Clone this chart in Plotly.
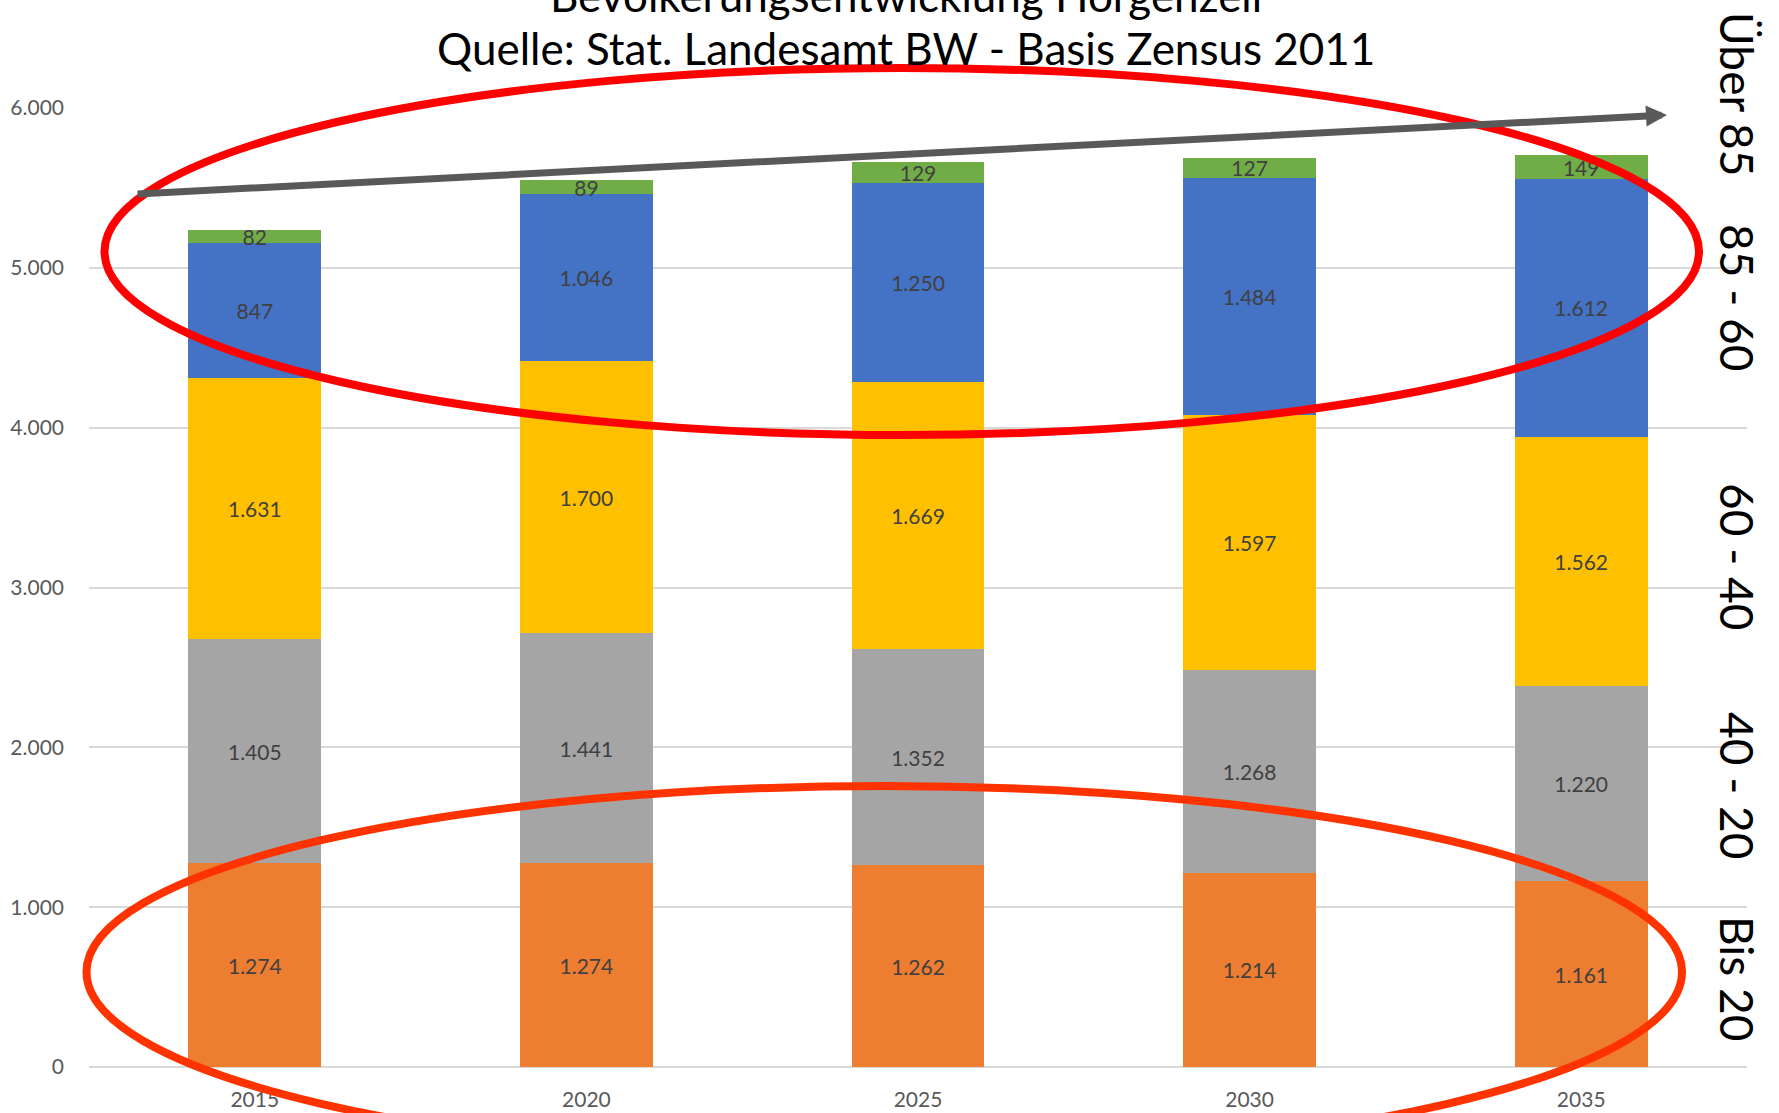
import plotly.graph_objects as go

years = ["2015", "2020", "2025", "2030", "2035"]
bis20 = [1274, 1274, 1262, 1214, 1161]
a20_40 = [1405, 1441, 1352, 1268, 1220]
a40_60 = [1631, 1700, 1669, 1597, 1562]
a60_85 = [847, 1046, 1250, 1484, 1612]
ueber85 = [82, 89, 129, 127, 149]

series = [
    ("Bis 20", bis20, "#ED7D31"),
    ("40 - 20", a20_40, "#A5A5A5"),
    ("60 - 40", a40_60, "#FFC000"),
    ("85 - 60", a60_85, "#4472C4"),
    ("Über 85", ueber85, "#70AD47"),
]

W, H = 1779, 1113
L, R, T, B = 88.5, 1747, 108, 1067


def px(x):
    return (x - L) / (R - L)


def py(y):
    return (B - y) / (B - T)


fig = go.Figure()
for name, vals, col in series:
    fig.add_trace(go.Bar(
        x=years, y=vals, name=name,
        marker=dict(color=col, line=dict(width=0)),
        texttemplate="%{y:,}", textposition="inside", textangle=0,
        insidetextanchor="middle",
        textfont=dict(family="Lato", size=21, color="#404040"),
        constraintext="none",
    ))

annotations = [
    dict(text="Bevölkerungsentwicklung Horgenzell", x=px(906), y=py(-5),
         xref="paper", yref="paper", showarrow=False, xanchor="center", yanchor="middle",
         font=dict(family="Lato", size=44, color="#000000")),
    dict(text="Quelle: Stat. Landesamt BW - Basis Zensus 2011", x=px(906), y=py(48),
         xref="paper", yref="paper", showarrow=False, xanchor="center", yanchor="middle",
         font=dict(family="Lato", size=44, color="#000000")),
]
for label, yc in [("Über 85", 94), ("85 - 60", 297), ("60 - 40", 556), ("40 - 20", 785), ("Bis 20", 978)]:
    annotations.append(dict(text=label, x=px(1738), y=py(yc), xref="paper", yref="paper",
                            showarrow=False, textangle=90, xanchor="center", yanchor="middle",
                            font=dict(family="Lato", size=46, color="#000000")))

annotations.append(dict(x=px(1667), y=py(115), xref="paper", yref="paper",
                        ax=136 - 1667, ay=194 - 115, axref="pixel", ayref="pixel",
                        text="", showarrow=True, arrowhead=2, arrowsize=0.6,
                        arrowwidth=7, arrowcolor="#595959"))

shapes = [
    dict(type="circle", xref="paper", yref="paper", x0=px(104), x1=px(1699),
         y0=py(435), y1=py(68), line=dict(color="#FF0000", width=8)),
    dict(type="circle", xref="paper", yref="paper", x0=px(86), x1=px(1682),
         y0=py(1158), y1=py(786), line=dict(color="#FF3300", width=8)),
]

fig.update_layout(
    width=W, height=H,
    barmode="stack", bargap=0.6,
    separators=",.",
    showlegend=False,
    plot_bgcolor="white", paper_bgcolor="white",
    margin=dict(l=L, r=W - R, t=T, b=H - B, autoexpand=False),
    uniformtext=dict(mode="show", minsize=21),
    annotations=annotations, shapes=shapes,
    xaxis=dict(showgrid=False, showline=False, zeroline=False, ticks="",
               tickfont=dict(family="Lato", size=21, color="#595959"),
               ticklabelstandoff=18),
    yaxis=dict(range=[0, 6000], tickvals=[0, 1000, 2000, 3000, 4000, 5000, 6000],
               tickformat=",d", showgrid=True, gridcolor="#D9D9D9", gridwidth=1.5,
               zeroline=True, zerolinecolor="#D9D9D9", zerolinewidth=1.5,
               showline=False, ticks="",
               tickfont=dict(family="Lato", size=21, color="#595959"),
               ticklabelstandoff=24),
)

fig.write_html("out.html", config={"displayModeBar": False},
               post_script="document.body.style.margin='0';document.body.style.overflow='hidden';")
